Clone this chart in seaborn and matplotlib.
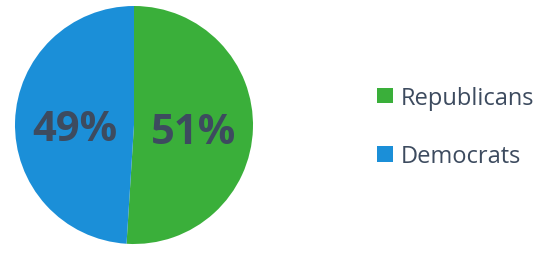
import matplotlib
matplotlib.use("Agg")
import numpy as np
import matplotlib.pyplot as plt
import seaborn as sns
from matplotlib.patches import Patch

# Data
parties = ["Republicans", "Democrats"]
shares = [51, 49]
colors = ["#3aaf3a", "#1b8fd8"]
text_color = "#3d4b5f"

sns.set_theme(style="white")
plt.rcParams['font.family'] = ['Open Sans', 'DejaVu Sans']

fig = plt.figure(figsize=(5.5, 2.55), dpi=100)
ax = fig.add_axes([15 / 550, 10 / 255, 238 / 550, 238 / 255])

wedges, texts = ax.pie(shares, colors=colors, startangle=90, counterclock=False,
                       wedgeprops=dict(linewidth=0))
ax.set_xlim(-1, 1)
ax.set_ylim(-1, 1)
ax.set_aspect('equal')

# percentage labels
for w, v in zip(wedges, shares):
    ang = np.deg2rad((w.theta1 + w.theta2) / 2)
    ax.text(0.5 * np.cos(ang), 0.5 * np.sin(ang) - 0.05, f"{v}%",
            ha='center', va='center', fontsize=30, fontweight='bold', color=text_color)

handles = [Patch(facecolor=c, edgecolor='none') for c in colors]
leg = fig.legend(handles, parties, loc='center left', bbox_to_anchor=(356 / 550, 1 - 128 / 255),
                 frameon=False, fontsize=17, labelspacing=1.45, handlelength=0.65,
                 handleheight=0.65, handletextpad=0.35, labelcolor=text_color)

fig.savefig("out.png", dpi=100)
